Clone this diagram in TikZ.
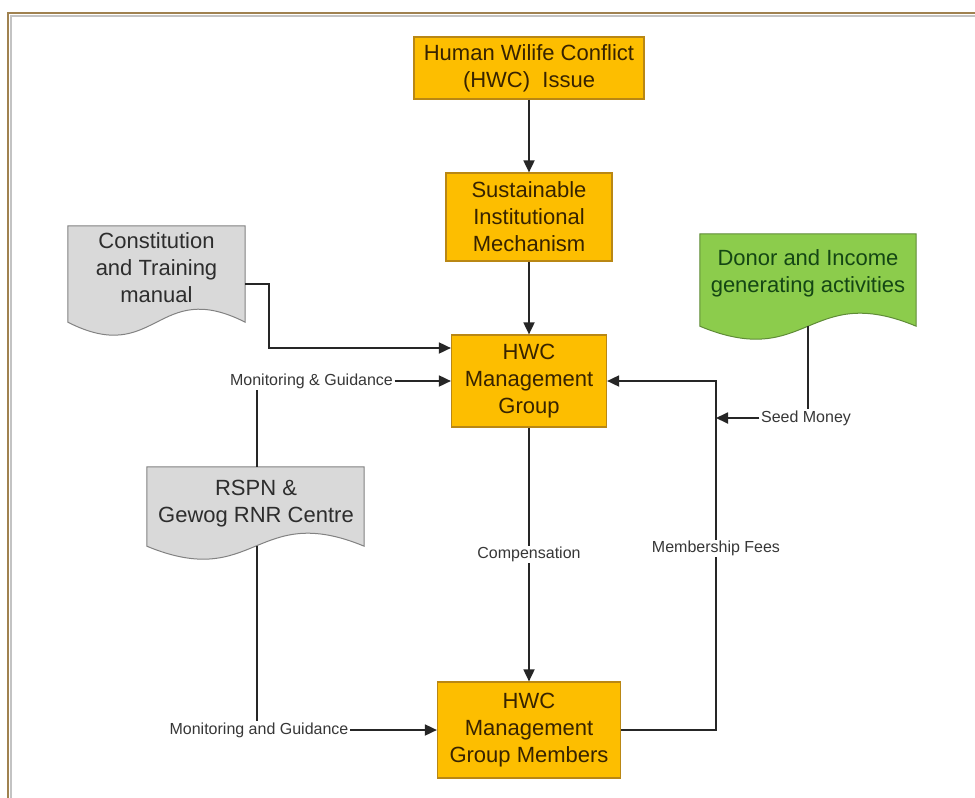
\documentclass[tikz,border=0pt]{standalone}
\usepackage{fontspec}
\setmainfont{Liberation Sans}
\usetikzlibrary{arrows.meta,calc}
\definecolor{boxfill}{RGB}{253,190,0}
\definecolor{boxline}{RGB}{185,135,20}
\definecolor{boxtext}{RGB}{55,35,0}
\definecolor{docgray}{RGB}{217,217,217}
\definecolor{docline}{RGB}{130,130,130}
\definecolor{doctext}{RGB}{45,45,45}
\definecolor{docgreen}{RGB}{140,204,76}
\definecolor{greenline}{RGB}{95,140,55}
\definecolor{greentext}{RGB}{20,70,20}
\definecolor{frameb}{RGB}{160,130,80}
\definecolor{frameg}{RGB}{195,195,195}
\definecolor{lbltext}{RGB}{55,55,55}
\begin{document}
\begin{tikzpicture}[x=1pt,y=-1pt,
 procbox/.style={draw=boxline, fill=boxfill, line width=1.2pt, text=boxtext, align=center, font=\fontsize{22}{27}\selectfont, inner sep=0pt},
 docarea/.style={inner sep=0pt},
 doctxt/.style={align=center, font=\fontsize{22}{27}\selectfont, inner sep=0pt},
 lbl/.style={font=\fontsize{16}{19}\selectfont, text=lbltext, inner sep=1.5pt},
 conn/.style={line width=1.8pt, draw=black!85},
 arr/.style={conn, -{Triangle[length=12pt,width=11pt]}}
]
\useasboundingbox (0,0) rectangle (975,798);
\fill[white] (0,0) rectangle (975,798);
% frame
\draw[frameb, line width=1.2pt] (8,798) -- (8,13) -- (975,13);
\draw[frameg, line width=1.2pt] (11,798) -- (11,16) -- (975,16);

% process boxes
\node[procbox, minimum width=230pt, minimum height=62pt] (issue) at (529,68) {Human Wilife Conflict\\(HWC)~ Issue};
\node[procbox, minimum width=166pt, minimum height=88pt] (sust) at (529,217) {Sustainable\\Institutional\\Mechanism};
\node[procbox, minimum width=155pt, minimum height=92pt] (mg) at (529,381) {HWC\\Management\\Group};
\node[procbox, minimum width=183pt, minimum height=96pt] (mem) at (529,730) {HWC\\Management\\Group Members};

% document shapes
\node[docarea, minimum width=177pt, minimum height=96pt] (cons) at (156.5,274) {};
\node[docarea, minimum width=217pt, minimum height=79pt] (rspn) at (255.5,506.5) {};
\node[docarea, minimum width=216pt, minimum height=92pt] (donor) at (808,280) {};
\foreach \d/\f/\l in {cons/docgray/docline, rspn/docgray/docline, donor/docgreen/greenline}{
  \draw[fill=\f, draw=\l, line width=1pt] (\d.north west) -- (\d.north east) -- (\d.south east)
    .. controls ($(\d.south)+(0,-45)$) and ($(\d.south)+(0,45)$) .. (\d.south west) -- cycle;
}
\node[doctxt, text=doctext] (consT) at (156.5,268) {Constitution\\and Training\\manual};
\node[doctxt, text=doctext] (rspnT) at (256,504) {RSPN \&\\Gewog RNR Centre};
\node[doctxt, text=greentext] (donorT) at (808,273) {Donor and Income\\generating activities};

% labels
\node[lbl] (mon1) at (311.5,381) {Monitoring \& Guidance};
\node[lbl] (mon2) at (259,730) {Monitoring and Guidance};
\node[lbl] (seed) at (806,418) {Seed Money};
\coordinate (fee) at (716,730);
\coordinate (rtop) at ($(rspn.north)+(1.5,0)$);
\coordinate (rbot) at ($(rspn.south)+(1.5,0)$);

% connectors
\draw[arr] (issue) -- (sust);
\draw[arr] (sust) -- (mg);
\draw[arr] ($(cons.east)+(0,10)$) -- ++(24,0) |- ($(mg.west)+(0,-33)$);
\draw[arr] (mon1.east) -- (mg.west);
\draw[conn] (rtop) -- (rtop |- mon1.south);
\draw[conn] (rbot) -- (rbot |- mon2.north);
\draw[arr] (mon2.east) -- (mem.west);
\draw[arr] (mg) -- node[lbl, fill=white] {Compensation} (mem);
\draw[arr] (mem.east) -- (fee) |- node[lbl, fill=white, pos=0.26] {Membership Fees} (mg.east);
\draw[conn] (donor.south) -- (donor.south |- seed.north);
\draw[arr] (seed.west) -- (fee |- seed.west);
\end{tikzpicture}
\end{document}
